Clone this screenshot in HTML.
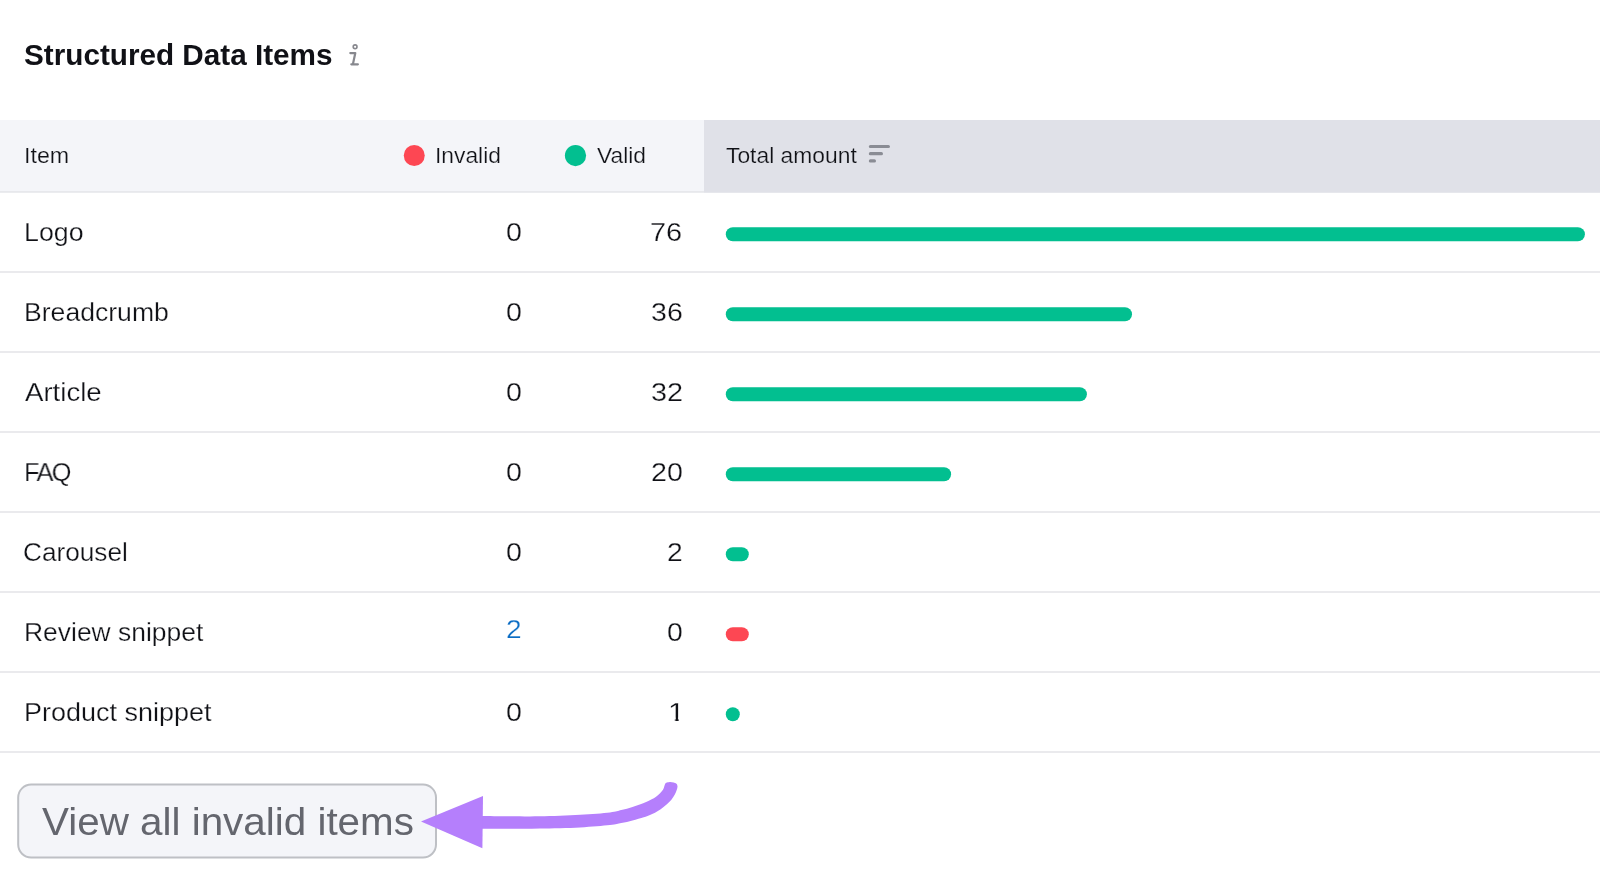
<!DOCTYPE html>
<html>
<head>
<meta charset="utf-8">
<title>Structured Data Items</title>
<style>
  html, body { margin: 0; padding: 0; }
  body {
    width: 1600px; height: 888px; overflow: hidden; position: relative;
    background: #ffffff;
    font-family: "Liberation Sans", sans-serif;
    color: #101116;
  }
  .abs { position: absolute; }
  .t { position: absolute; white-space: nowrap; line-height: 1; transform-origin: 0 0; will-change: transform; }
  .title { font-size: 29.7px; font-weight: bold; }
  .h { font-size: 22.8px; -webkit-text-stroke: 0.22px #f4f5f9; }
  .h2 { -webkit-text-stroke-color: #e0e1e8; }
  .lab { font-size: 26px; -webkit-text-stroke: 0.25px #fff; }
  .num { font-size: 26px; -webkit-text-stroke: 0.25px #fff; }
  .faq { letter-spacing: -1.8px; }
  .btnt { font-size: 39px; color: #64666e; }
</style>
</head>
<body>
<svg class="abs" style="left:0;top:0" width="1600" height="888" viewBox="0 0 1600 888">
    <rect x="0" y="120" width="704" height="71" fill="#f4f5f9"/>
    <rect x="0" y="191" width="704" height="1.8" fill="#e7e8ec"/>
    <rect x="704" y="120" width="896" height="72.8" fill="#e0e1e8"/>
    <circle cx="414.25" cy="155.5" r="10.5" fill="#fd4753"/>
    <circle cx="575.5" cy="155.6" r="10.6" fill="#02bf90"/>
    <path d="M870.4 146.5 H888.4 M870.4 153.7 H881.4 M870.4 160.9 H874.4" stroke="#8a8c94" stroke-width="3.2" stroke-linecap="round" fill="none"/>
    <circle cx="355.1" cy="46.8" r="1.9" fill="none" stroke="#87888e" stroke-width="1.6"/>
    <path d="M350.3 53.1 L355.3 53.1 L352.9 64.2 M351.3 64.3 L357.9 64.3" fill="none" stroke="#87888e" stroke-width="2.2" stroke-linecap="round" stroke-linejoin="round"/>
    <rect x="0" y="271" width="1600" height="2" fill="#eaeaed"/>
    <rect x="725.8" y="227.3" width="859.1" height="14" rx="7" fill="#02bf90"/>
    <rect x="0" y="351" width="1600" height="2" fill="#eaeaed"/>
    <rect x="725.8" y="307.3" width="406.2" height="14" rx="7" fill="#02bf90"/>
    <rect x="0" y="431" width="1600" height="2" fill="#eaeaed"/>
    <rect x="725.8" y="387.3" width="361.1" height="14" rx="7" fill="#02bf90"/>
    <rect x="0" y="511" width="1600" height="2" fill="#eaeaed"/>
    <rect x="725.8" y="467.3" width="225.3" height="14" rx="7" fill="#02bf90"/>
    <rect x="0" y="591" width="1600" height="2" fill="#eaeaed"/>
    <rect x="725.8" y="547.3" width="23" height="14" rx="7" fill="#02bf90"/>
    <rect x="0" y="671" width="1600" height="2" fill="#eaeaed"/>
    <rect x="725.8" y="627.3" width="23" height="14" rx="7" fill="#fd4753"/>
    <rect x="0" y="751" width="1600" height="2" fill="#eaeaed"/>
    <rect x="725.8" y="707.3" width="14" height="14" rx="7" fill="#02bf90"/>
    <rect x="18.2" y="784.6" width="417.8" height="73" rx="13" fill="#f4f5f9" stroke="#bec0c5" stroke-width="2"/>
</svg>
  <div class="t title" style="left:24.25px;top:40.4px;transform:scaleX(0.9984);">Structured Data Items</div>
  <div class="t h" style="left:24.41px;top:144.08px;transform:scaleX(1.0198);">Item</div>
  <div class="t h" style="left:435.46px;top:144.08px;transform:scaleX(0.9952);">Invalid</div>
  <div class="t h" style="left:597.35px;top:144.08px;transform:scaleX(0.9989);">Valid</div>
  <div class="t h h2" style="left:725.5px;top:144.08px;transform:scaleX(1.0019);">Total amount</div>
  <div class="t lab" style="left:24.08px;top:219.33px;transform:scaleX(1.0295);">Logo</div>
  <div class="t num" style="left:506.42px;top:219.33px;transform:scaleX(1.1);">0</div>
  <div class="t num" style="left:650.33px;top:219.33px;transform:scaleX(1.1124);">76</div>
  <div class="t lab" style="left:24.0px;top:299.33px;transform:scaleX(1.0228);">Breadcrumb</div>
  <div class="t num" style="left:506.42px;top:299.33px;transform:scaleX(1.1);">0</div>
  <div class="t num" style="left:650.63px;top:299.33px;transform:scaleX(1.0981);">36</div>
  <div class="t lab" style="left:25.43px;top:379.33px;transform:scaleX(1.0615);">Article</div>
  <div class="t num" style="left:506.42px;top:379.33px;transform:scaleX(1.1);">0</div>
  <div class="t num" style="left:650.61px;top:379.33px;transform:scaleX(1.1086);">32</div>
  <div class="t lab faq" style="left:24.0px;top:459.33px;transform:scaleX(0.9788);">FAQ</div>
  <div class="t num" style="left:506.42px;top:459.33px;transform:scaleX(1.1);">0</div>
  <div class="t num" style="left:650.65px;top:459.33px;transform:scaleX(1.101);">20</div>
  <div class="t lab" style="left:23.49px;top:539.33px;transform:scaleX(1.0074);">Carousel</div>
  <div class="t num" style="left:506.42px;top:539.33px;transform:scaleX(1.1);">0</div>
  <div class="t num" style="left:666.87px;top:539.33px;transform:scaleX(1.087);">2</div>
  <div class="t lab" style="left:23.91px;top:619.33px;transform:scaleX(1.017);">Review snippet</div>
  <div class="t num" style="left:505.58px;top:615.83px;transform:scaleX(1.0783);color:#0a6cc4;">2</div>
  <div class="t num" style="left:666.74px;top:619.33px;transform:scaleX(1.0917);">0</div>
  <div class="t lab" style="left:23.87px;top:699.33px;transform:scaleX(1.0371);">Product snippet</div>
  <div class="t num" style="left:506.42px;top:699.33px;transform:scaleX(1.1);">0</div>
  <div class="t num" style="left:667.9px;top:699.33px;transform:scaleX(1.15);clip-path:polygon(0 0,14px 0,14px 18.5px,9.2px 18.5px,9.2px 26px,6.2px 26px,6.2px 18.5px,0 18.5px);">1</div>
  <div class="t btnt" style="left:41.64px;top:801.75px;transform:scaleX(1.0357);">View all invalid items</div>
<svg class="abs" style="left:0;top:0" width="1600" height="888" viewBox="0 0 1600 888">
    <path d="M482 815.9C486.7 816.0 500.3 816.1 510 816.2C519.7 816.3 528.3 816.5 540 816.3C551.7 816.0 568.4 815.4 580.1 814.7C591.8 814.1 603.1 813.2 610 812.4C616.9 811.6 617.5 811.0 621.3 810.1C625.0 809.2 628.8 808.2 632.5 807.0C636.2 805.8 640.5 804.4 643.8 803.1C647.1 801.8 649.9 800.4 652.2 799.1C654.6 797.8 656.3 796.5 657.9 795.2C659.5 793.9 660.8 792.5 661.8 791.3C662.8 790.1 663.3 789.0 663.8 787.9C664.3 786.8 664.5 785.4 664.9 784.5C665.3 783.6 665.5 783.2 666.3 782.8C667.1 782.4 668.5 782.0 669.7 781.9C670.9 781.8 672.5 782.1 673.6 782.4C674.7 782.7 675.6 783.0 676.2 783.6C676.9 784.2 677.4 785.1 677.5 786.2C677.6 787.3 677.2 788.7 676.7 790.1C676.2 791.5 675.7 793.0 674.8 794.6C673.9 796.2 672.8 798.0 671.4 799.7C670.0 801.4 668.1 803.2 666.3 804.8C664.5 806.4 662.6 808.0 660.7 809.3C658.8 810.6 656.9 811.7 655.0 812.7C653.1 813.7 651.3 814.5 649.4 815.2C647.5 816.0 646.6 816.3 643.8 817.2C641.0 818.1 636.2 819.5 632.5 820.5C628.8 821.5 625.0 822.4 621.3 823.1C617.5 823.9 616.9 824.3 610 825.0C603.1 825.7 591.8 826.8 580.1 827.4C568.4 828.0 551.7 828.3 540 828.5C528.3 828.7 519.7 828.8 510 828.8C500.3 828.8 486.7 828.8 482 828.8Z" fill="#b57ffc"/>
    <path d="M421 821.6 L483 796 L482.4 848.2 Z" fill="#b57ffc"/>
</svg>
</body>
</html>
